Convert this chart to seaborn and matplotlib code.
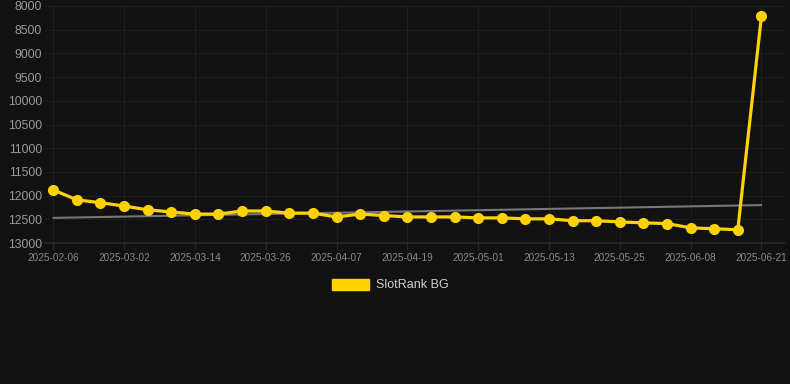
import numpy as np
import pandas as pd
import matplotlib
matplotlib.use("Agg")
import matplotlib.pyplot as plt
from matplotlib.patches import Patch
import seaborn as sns

# Data
dates = ["2025-02-06", "2025-02-14", "2025-02-22", "2025-03-02", "2025-03-06",
         "2025-03-10", "2025-03-14", "2025-03-18", "2025-03-22", "2025-03-26",
         "2025-03-30", "2025-04-03", "2025-04-07", "2025-04-11", "2025-04-15",
         "2025-04-19", "2025-04-23", "2025-04-27", "2025-05-01", "2025-05-05",
         "2025-05-09", "2025-05-13", "2025-05-17", "2025-05-21", "2025-05-25",
         "2025-05-29", "2025-06-03", "2025-06-08", "2025-06-12", "2025-06-17",
         "2025-06-21"]
ranks = [11880, 12090, 12150, 12220, 12300, 12345, 12390, 12390, 12325, 12325,
         12370, 12370, 12450, 12390, 12420, 12450, 12450, 12450, 12470, 12470,
         12490, 12490, 12530, 12530, 12555, 12575, 12590, 12680, 12700, 12720,
         8220]
trend = [12470, 12200]  # trend line value at first and last date
y_ticks = [8000, 8500, 9000, 9500, 10000, 10500, 11000, 11500, 12000, 12500, 13000]
series_name = "SlotRank BG"

bg = "#111111"
yellow = "#FFD200"

sns.set_theme(style="dark")
plt.rcParams["font.family"] = ["Liberation Sans", "DejaVu Sans"]

df = pd.DataFrame({"idx": range(len(dates)), "date": dates, "rank": ranks})
tr = pd.DataFrame({"idx": [0, len(dates) - 1], "rank": trend})

fig = plt.figure(figsize=(7.9, 3.84), dpi=100, facecolor=bg)
ax = fig.add_axes([45 / 790, 141 / 384, 740 / 790, 237 / 384])
ax.set_facecolor(bg)

sns.lineplot(data=tr, x="idx", y="rank", color="#777777", linewidth=1.5, ax=ax, zorder=2)
sns.lineplot(data=df, x="idx", y="rank", color=yellow, linewidth=2.3, marker="o",
             markersize=8, markeredgewidth=0, ax=ax, zorder=3)

ax.set_ylim(13000, 8000)
ax.set_xlim(-0.35, len(dates) - 1 + 1.0)
ax.set_yticks(y_ticks)
ax.set_yticklabels([str(t) for t in y_ticks], color="#9a9a9a", fontsize=8.8)
tick_pos = list(range(0, len(dates), 3))
ax.set_xticks(tick_pos)
ax.set_xticklabels([dates[i] for i in tick_pos], color="#8a8a8a", fontsize=7.2)
ax.tick_params(axis="x", length=5, color="#262626", width=1, pad=2, bottom=True)
ax.tick_params(axis="y", length=0, pad=2)

ax.grid(True, color="#1d1d1d", linewidth=0.8)
for s in ["top", "right", "left"]:
    ax.spines[s].set_visible(False)
ax.spines["bottom"].set_color("#2a2a2a")
ax.set_xlabel("")
ax.set_ylabel("")

handles = [Patch(facecolor=yellow, edgecolor=yellow, label=series_name)]
leg = fig.legend(handles=handles, loc="center", bbox_to_anchor=(390 / 790, 1 - 285 / 384),
                 frameon=False, fontsize=9, handlelength=3.0, handleheight=1.0,
                 handletextpad=0.5)
for t in leg.get_texts():
    t.set_color("#d0d0d0")

fig.savefig("out.png", dpi=100, facecolor=bg)
